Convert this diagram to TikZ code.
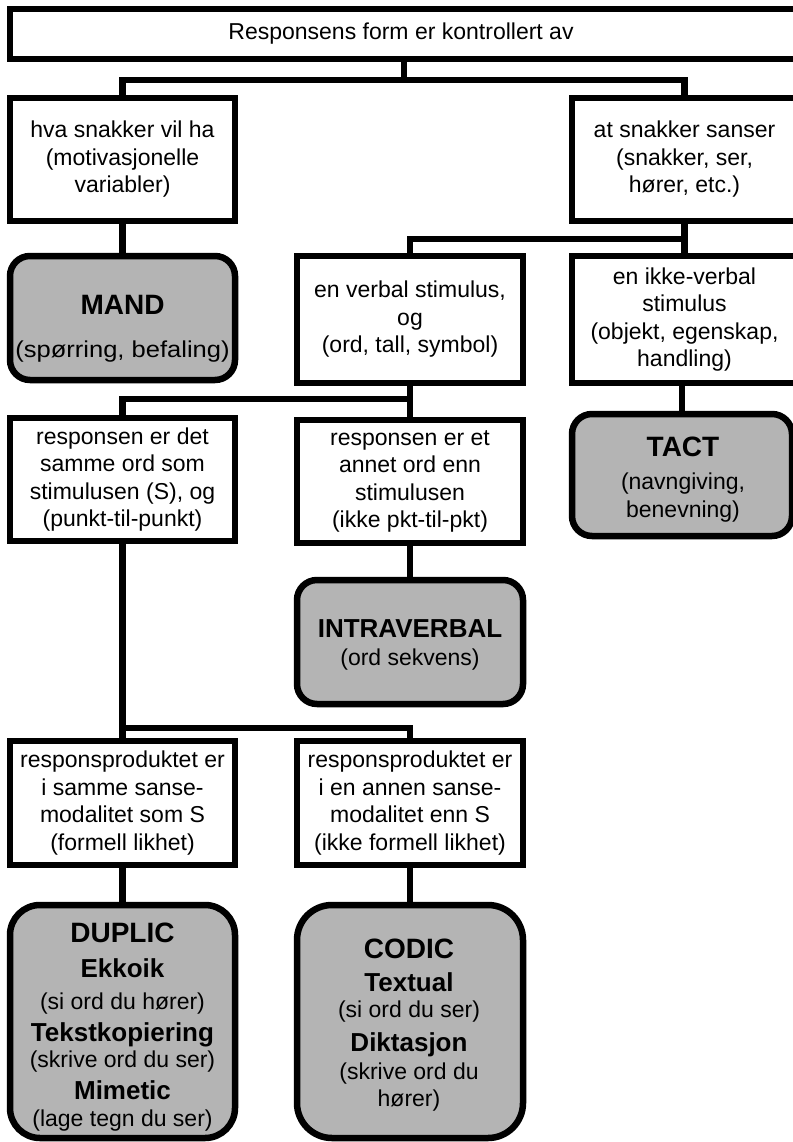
\documentclass[tikz,border=0pt]{standalone}
\usepackage{fontspec}
\setmainfont{Liberation Sans}
\usepackage{graphicx}
\definecolor{boxgray}{RGB}{180,180,180}
\tikzset{
  wbox/.style={draw=black, line width=6.5pt, fill=white, align=center, inner sep=0pt, font=\fontsize{23}{27.5}\selectfont},
  gbox/.style={draw=black, line width=6.5pt, fill=boxgray, rounded corners=#1, inner sep=0pt},
  gtxt/.style={align=center, inner sep=0pt, font=\fontsize{23}{27.5}\selectfont},
  conn/.style={draw=black, line width=6.5pt},
}
\newcommand{\hdline}[1]{{\fontsize{28}{27.5}\selectfont\bfseries #1}}
\newcommand{\subhd}[1]{{\fontsize{26}{27.5}\selectfont\bfseries #1}}
\begin{document}
\begin{tikzpicture}[x=1pt,y=-1pt]
\useasboundingbox (0,0) rectangle (792,1142);
\fill[white] (0,0) rectangle (792,1142);

% white boxes
\node[wbox, minimum width=790pt, minimum height=50pt] (top) at (405,34) {\hspace*{-8pt}Responsens form er kontrollert av};
\node[wbox, minimum width=225pt, minimum height=123pt] (hva) at (122.5,159.5) {hva snakker vil ha\\(motivasjonelle\\variabler)};
\node[wbox, minimum width=225pt, minimum height=123pt] (snak) at (684.5,159.5) {at snakker sanser\\(snakker, ser,\\hører, etc.)};
\node[wbox, minimum width=226pt, minimum height=127pt] (verbal) at (410,319.5) {en verbal stimulus,\\og\\(ord, tall, symbol)};
\node[wbox, minimum width=225pt, minimum height=127pt] (ikke) at (684.5,319.5) {en ikke-verbal\\stimulus\\(objekt, egenskap,\\handling)};
\node[wbox, minimum width=225pt, minimum height=123pt] (resdet) at (122.5,479.5) {responsen er det\\samme ord som\\stimulusen (S), og\\(punkt-til-punkt)};
\node[wbox, minimum width=226pt, minimum height=123pt] (reset) at (410,481.5) {responsen er et\\annet ord enn\\stimulusen\\(ikke pkt-til-pkt)};
\node[wbox, minimum width=225pt, minimum height=124pt] (rps1) at (122.5,803) {responsproduktet er\\i samme sanse-\\modalitet som S\\(formell likhet)};
\node[wbox, minimum width=226pt, minimum height=124pt] (rps2) at (410,803) {responsproduktet er\\i en annen sanse-\\modalitet enn S\\(ikke formell likhet)};

% grey boxes
\node[gbox=20pt, minimum width=225pt, minimum height=124pt] (mand) at (122.5,318) {};
\node[gbox=20pt, minimum width=220pt, minimum height=122pt] (tact) at (682,475) {};
\node[gbox=20pt, minimum width=226pt, minimum height=124pt] (intra) at (410,642) {};
\node[gbox=30pt, minimum width=225pt, minimum height=233pt] (dup) at (122.5,1021.5) {};
\node[gbox=35pt, minimum width=226pt, minimum height=233pt] (cod) at (410,1021.5) {};

\node[gtxt] (mandtxt) at (122.5,329) {\hdline{MAND}\\[15.5pt]\scalebox{1.11}[1]{(spørring, befaling)}};
\node[gtxt] (tacttxt) at (683,479.5) {\hdline{TACT}\\[5.5pt](navngiving,\\benevning)};
\node[gtxt] (intratxt) at (410,644.7) {\subhd{INTRAVERBAL}\\(ord sekvens)};
\node[gtxt] (duptxt) at (122.5,1027.5) {\hdline{DUPLIC}\\[7.5pt]\subhd{Ekkoik}\\[4.5pt](si ord du hører)\\[4.5pt]\subhd{Tekstkopiering}\\[-1.5pt](skrive ord du ser)\\[4.5pt]\subhd{Mimetic}\\[-0.5pt](lage tegn du ser)};
\node[gtxt] (codtxt) at (409,1025.5) {\hdline{CODIC}\\[5.5pt]\subhd{Textual}\\[-1.5pt](si ord du ser)\\[6.5pt]\subhd{Diktasjon}\\[0.5pt](skrive ord du\\[-0.5pt]hører)};

% connectors
\coordinate (j1) at (404,80);
\draw[conn] (top.south -| j1) -- (j1);
\draw[conn] (hva.north) |- (j1) -| (snak.north);
\draw[conn] (hva.south) -- (mand.north);
\coordinate (j2) at (684.5,239);
\draw[conn] (snak.south) -- (ikke.north);
\draw[conn] (verbal.north) |- (j2);
\draw[conn] (ikke.south -| tact.north) -- (tact.north);
\coordinate (j3) at (410,399);
\draw[conn] (verbal.south) -- (reset.north);
\draw[conn] (resdet.north) |- (j3);
\draw[conn] (reset.south) -- (intra.north);
\coordinate (j4) at (122.5,728);
\draw[conn] (resdet.south) -- (rps1.north);
\draw[conn] (rps2.north) |- (j4);
\draw[conn] (rps1.south) -- (dup.north);
\draw[conn] (rps2.south) -- (cod.north);
\end{tikzpicture}
\end{document}
